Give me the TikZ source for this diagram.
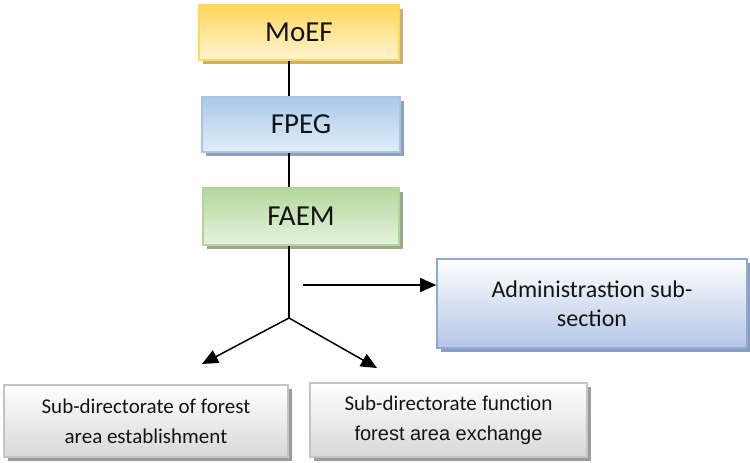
\documentclass[tikz,border=0pt]{standalone}
\usepackage{fontspec}
\setmainfont{Carlito}
\newfontfamily\arialfont{Liberation Sans}
\usetikzlibrary{arrows.meta,shadows}
\definecolor{txt}{HTML}{141414}
\tikzset{
  box/.style={rectangle, inner sep=0pt, align=center, text=txt, line width=1.6pt},
  topbox/.style={box, font=\fontsize{29}{34}\selectfont},
  yelbox/.style={topbox, draw=yfr, top color=ytop, bottom color=ybot,
    drop shadow={shadow xshift=4pt,shadow yshift=-4pt,fill=ysh,opacity=1}},
  bluebox/.style={topbox, draw=bfr, top color=btop, bottom color=bbot,
    drop shadow={shadow xshift=4pt,shadow yshift=-4pt,fill=bsh,opacity=1}},
  grnbox/.style={topbox, draw=gfr, top color=gtop, bottom color=gbot,
    drop shadow={shadow xshift=4pt,shadow yshift=-4pt,fill=gsh,opacity=1}},
  admbox/.style={box, font=\fontsize{24}{29}\selectfont, draw=afr, top color=white, bottom color=abot,
    drop shadow={shadow xshift=4pt,shadow yshift=-4pt,fill=ash,opacity=1}},
  graybox/.style={box, font=\fontsize{21}{30}\selectfont, draw=kfr, top color=white, bottom color=kbot,
    drop shadow={shadow xshift=4pt,shadow yshift=-4pt,fill=ksh,opacity=1}},
  conn/.style={line width=1.5pt, black},
  arr/.style={conn, -{Triangle[length=16pt,width=14pt]}},
}
\definecolor{yfr}{HTML}{FFD75E}
\definecolor{ytop}{HTML}{FFD65A}
\definecolor{ybot}{HTML}{FFF4D2}
\definecolor{ysh}{HTML}{C9B172}
\definecolor{bfr}{HTML}{A7C6E6}
\definecolor{btop}{HTML}{A9CAEA}
\definecolor{bbot}{HTML}{E2EDF8}
\definecolor{bsh}{HTML}{8EA3BB}
\definecolor{gfr}{HTML}{B2D59A}
\definecolor{gtop}{HTML}{B4D89C}
\definecolor{gbot}{HTML}{E6F2DE}
\definecolor{gsh}{HTML}{9BAA8D}
\definecolor{afr}{HTML}{8EAADB}
\definecolor{abot}{HTML}{B3C5E6}
\definecolor{ash}{HTML}{8E9DB7}
\definecolor{kfr}{HTML}{C4C4C4}
\definecolor{kbot}{HTML}{D8D8D8}
\definecolor{ksh}{HTML}{9C9C9C}
\begin{document}
\begin{tikzpicture}[x=1pt,y=-1pt]
\useasboundingbox (0,0) rectangle (750,463);
\node[yelbox, minimum width=200pt, minimum height=55pt] (moef) at (299,32.5) {MoEF};
\node[bluebox, minimum width=198pt, minimum height=55pt] (fpeg) at (301,124.5) {FPEG};
\node[grnbox, minimum width=196pt, minimum height=57pt] (faem) at (301,216.5) {FAEM};
\node[admbox, minimum width=310pt, minimum height=89pt] (adm) at (592,303.5) {Administrastion sub-\\section};
\node[graybox, minimum width=284pt, minimum height=72pt] (bl) at (146,421) {Sub-directorate of forest\\area establishment};
\node[graybox, minimum width=277pt, minimum height=74pt] (br) at (448.5,420)
  {Sub-directorate{\arialfont\fontsize{20}{30}\selectfont{} function}\\{\arialfont\fontsize{20}{30}\selectfont forest area exchange}};
\coordinate (spine) at (289,0);
\coordinate (junc) at (289,318);
\coordinate (hstart) at (303,285);
\coordinate (tipl) at (202,364);
\coordinate (tipr) at (377,368);
\draw[conn] (moef.south -| spine) -- (fpeg.north -| spine);
\draw[conn] (fpeg.south -| spine) -- (faem.north -| spine);
\draw[conn] (faem.south -| spine) -- (junc);
\draw[arr] (hstart) -- (hstart -| adm.west);
\draw[arr] (junc) -- (tipl);
\draw[arr] (junc) -- (tipr);
\end{tikzpicture}
\end{document}
